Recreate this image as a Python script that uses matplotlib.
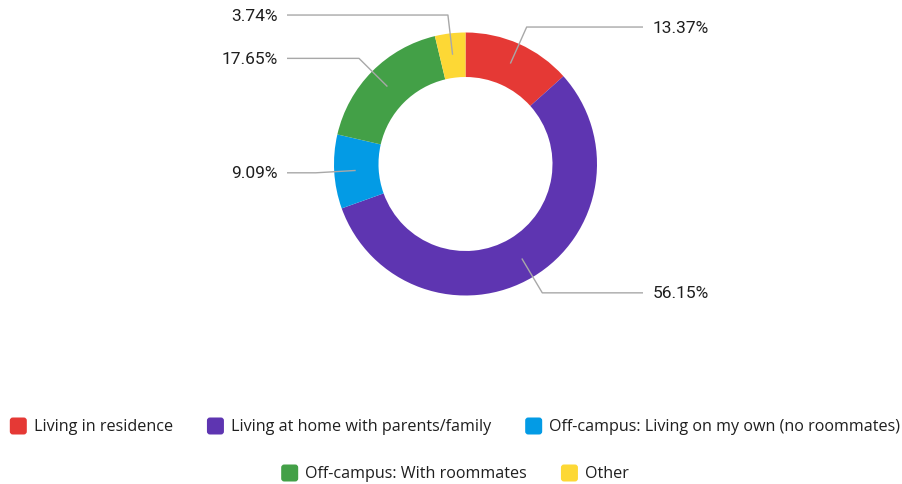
import numpy as np
import matplotlib
matplotlib.use("Agg")
import matplotlib.pyplot as plt
from matplotlib.patches import FancyBboxPatch

categories = [
    "Living in residence",
    "Living at home with parents/family",
    "Off-campus: Living on my own (no roommates)",
    "Off-campus: With roommates",
    "Other",
]
shares = [13.37, 56.15, 9.09, 17.65, 3.74]
colors = ["#E53935", "#5E35B1", "#039BE5", "#43A047", "#FDD835"]
legend_rows = [[0, 1, 2], [3, 4]]

W, H = 902, 485
fig = plt.figure(figsize=(W / 100, H / 100), dpi=100)
ax = fig.add_axes([0, 0, 1, 1])
ax.set_xlim(0, W)
ax.set_ylim(0, H)
ax.set_aspect("equal")
ax.axis("off")

cx, cy = 465.5, H - 165
r_out, r_in = 131.5, 87

wedges, _ = ax.pie(
    shares, colors=colors, startangle=90, counterclock=False,
    center=(cx, cy), radius=r_out, frame=True,
    wedgeprops=dict(width=r_out - r_in, linewidth=0),
)
ax.set_xlim(0, W)
ax.set_ylim(0, H)
ax.axis("off")

label_font = dict(family=["Roboto", "DejaVu Sans"], size=12.5, color="#1f1f1f")
line_kw = dict(color="#a8a8a8", lw=1.0, solid_capstyle="butt")

for w, v in zip(wedges, shares):
    mid = np.deg2rad((w.theta1 + w.theta2) / 2)
    x0, y0 = cx + 110 * np.cos(mid), cy + 110 * np.sin(mid)
    x1, y1 = cx + 150 * np.cos(mid), cy + 150 * np.sin(mid)
    if np.cos(mid) >= 0:
        x2 = 643
        ax.plot([x0, x1, x2], [y0, y1, y1], **line_kw)
        ax.text(x2 + 10, y1, f"{v:.2f}%", ha="left", va="center", **label_font)
    else:
        x2 = 287
        ax.plot([x0, x1, x2], [y0, y1, y1], **line_kw)
        ax.text(x2 - 9, y1, f"{v:.2f}%", ha="right", va="center", **label_font)

# Legend: rounded swatches with labels, each row centred
leg_font = dict(family=["Open Sans", "DejaVu Sans"], size=11.6, color="#1f1f1f")
sw, gap_txt, gap_item = 17, 7, 34
row_y = [H - 427, H - 474]
fig.canvas.draw()
renderer = fig.canvas.get_renderer()
for row, y in zip(legend_rows, row_y):
    texts, widths = [], []
    for i in row:
        t = ax.text(0, y, categories[i], ha="left", va="center", **leg_font)
        bb = t.get_window_extent(renderer)
        texts.append(t)
        widths.append(bb.width)
    total = sum(sw + gap_txt + wd for wd in widths) + gap_item * (len(row) - 1)
    x = 455 - total / 2
    for i, t, wd in zip(row, texts, widths):
        ax.add_patch(FancyBboxPatch((x + 2, y - sw / 2 + 2), sw - 4, sw - 4,
                                    boxstyle="round,pad=2,rounding_size=3",
                                    fc=colors[i], ec="none"))
        t.set_x(x + sw + gap_txt)
        x += sw + gap_txt + wd + gap_item

fig.savefig("out.png", dpi=100, facecolor="white")
